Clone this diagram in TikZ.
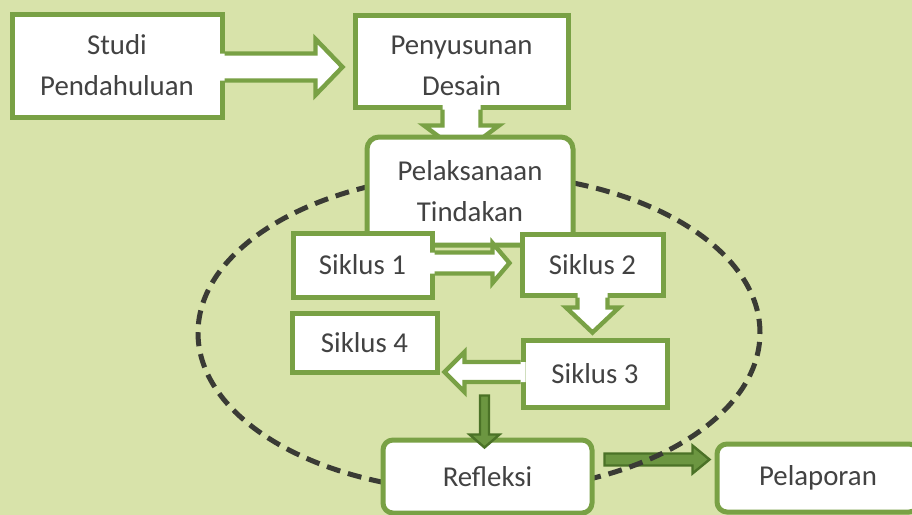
\documentclass[tikz,border=0pt]{standalone}
\usepackage{fontspec}
\setmainfont{Carlito}
\usetikzlibrary{calc}
\definecolor{bgc}{HTML}{D8E3AA}
\definecolor{brd}{HTML}{79A145}
\definecolor{txt}{HTML}{424242}
\definecolor{dkfill}{HTML}{6C9641}
\definecolor{dkline}{HTML}{4B7227}
\definecolor{dashc}{HTML}{3A3B35}
\pgfdeclarelayer{back}
\pgfsetlayers{back,main}
\tikzset{
  box/.style={draw=brd, line width=2.5pt, fill=white, inner sep=0pt, align=center,
    font=\fontsize{14.4}{20.5}\selectfont, text=txt},
  rbox/.style={box, rounded corners=6pt},
  hfill/.style={fill=white},
  hline/.style={draw=brd, line width=2.2pt, line join=miter},
  ring/.style={draw=dashc, line width=2.5pt, dash pattern=on 7pt off 4pt}
}
% hollow block arrow: #1 style prefix, #2 anchor, #3 angle, #4 shaft len, #5 shaft half, #6 head half, #7 head len
\newcommand{\blockarrow}[7]{%
  \begin{scope}[shift={(#2)},rotate=#3]
    \fill[#1fill] (-5,-#5) -- (#4,-#5) -- (#4,-#6) -- ({#4+#7},0) -- (#4,#6) -- (#4,#5) -- (-5,#5) -- cycle;
    \draw[#1line] (0,-#5) -- (#4,-#5) -- (#4,-#6) -- ({#4+#7},0) -- (#4,#6) -- (#4,#5) -- (0,#5);
  \end{scope}}
% dark block arrow: #1 anchor, #2 angle, #3 shaft len, #4 shaft half, #5 head half, #6 head len
\newcommand{\darkarrow}[6]{%
  \begin{scope}[shift={(#1)},rotate=#2]
    \filldraw[fill=dkfill, draw=dkline, line width=1.2pt, line join=miter]
      (0,-#4) -- (#3,-#4) -- (#3,-#5) -- ({#3+#6},0) -- (#3,#5) -- (#3,#4) -- (0,#4) -- cycle;
  \end{scope}}
\begin{document}
\begin{tikzpicture}[x=0.5pt,y=-0.5pt]
\useasboundingbox (0,0) rectangle (912,515);
\clip (0,0) rectangle (912,515);
\begin{pgfonlayer}{back}
  \fill[bgc] (0,0) rectangle (912,515);
\end{pgfonlayer}

\node[box, minimum width=105pt, minimum height=51.5pt] (studi) at (117,65.5) {Studi\\Pendahuluan};
\node[box, align=none, minimum width=106.5pt, minimum height=46pt] (penyusunan) at (461.5,61)
  {\raisebox{-3pt}[\height][\depth]{\begin{tabular}{@{}c@{}}Penyusunan\\Desain\end{tabular}}};

\blockarrow{h}{$(studi.east)+(0,1.5)$}{0}{91}{13.5}{28}{27}
\blockarrow{h}{penyusunan.south}{-90}{16}{19}{37.5}{28}

\node[rbox, minimum width=103pt, minimum height=54pt] (pelaksanaan) at (470,191) {Pelaksanaan\\Tindakan};

\node[box, minimum width=69.5pt, minimum height=32pt] (siklus1) at (362.5,265) {Siklus 1};
\node[box, minimum width=70.5pt, minimum height=30.5pt] (siklus2) at (592.5,264.5) {Siklus 2};
\node[box, minimum width=72.5pt, minimum height=29.5pt] (siklus4) at (364.5,342.5) {Siklus 4};
\node[box, minimum width=72pt, minimum height=33.5pt] (siklus3) at (595,373.5) {Siklus 3};

\blockarrow{h}{$(siklus1.east)+(0,-2)$}{0}{58}{10.5}{20}{17}
\blockarrow{h}{siklus2.south}{-90}{10}{15}{26.5}{25}
\blockarrow{h}{$(siklus3.west)+(0,-1.5)$}{180}{56}{10}{20}{20}

\node[box, rounded corners=5pt, minimum width=104.5pt, minimum height=36.5pt] (refleksi) at (487.5,476.5) {Refleksi};
\node[box, rounded corners=5pt, minimum width=101pt, minimum height=34pt] (pelaporan) at (818,478) {Pelaporan};

\darkarrow{$(refleksi.north)+(-3,-42)$}{-90}{39}{4.5}{15}{13}

\begin{pgfonlayer}{back}
  \darkarrow{$(refleksi.east)+(10,-17)$}{0}{88}{6}{14}{17}
  \draw[ring] (479,332.8) ellipse [x radius=140.5pt, y radius=79.5pt];
\end{pgfonlayer}
\end{tikzpicture}
\end{document}
